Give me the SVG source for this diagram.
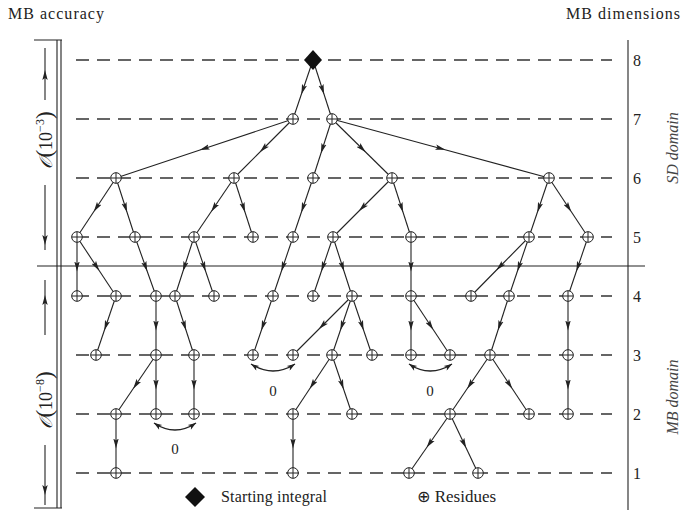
<svg xmlns="http://www.w3.org/2000/svg" width="683" height="514" viewBox="0 0 683 514">
<style>
.lvl{stroke:#333;stroke-width:1.3;stroke-dasharray:13 8;fill:none}
.ax{stroke:#222;stroke-width:1.1;fill:none}
.e{stroke:#222;stroke-width:1.1;fill:none;marker-mid:url(#ah)}
.z{stroke:#222;stroke-width:1.4;fill:none;marker-start:url(#ae);marker-end:url(#ae)}
.t{fill:#222}
.it{font-style:italic;fill:#444}
</style>
<defs>
<marker id="ah" viewBox="-5 -3 10 6" markerWidth="10" markerHeight="6" markerUnits="userSpaceOnUse" refX="0" refY="0" orient="auto"><path d="M-5,-2.7 L5,0 L-5,2.7 L-3,0 Z" fill="#222"/></marker>
<marker id="ae" viewBox="-9 -3 10 6" markerWidth="10" markerHeight="6" markerUnits="userSpaceOnUse" refX="0" refY="0" orient="auto-start-reverse"><path d="M-8,-2.8 L0,0 L-8,2.8 L-6,0 Z" fill="#222"/></marker>
<g id="res" fill="#fff" stroke="#222" stroke-width="1"><circle r="5.3"/><path d="M-5.3,0 H5.3 M0,-5.3 V5.3" fill="none"/></g>
</defs>

<g id="labels">
<text class="t" x="8" y="19" font-size="16" textLength="96" font-family="Liberation Serif, serif">MB accuracy</text>
<text class="t" x="566" y="19" font-size="16" textLength="114" font-family="Liberation Serif, serif">MB dimensions</text>
<text class="t" x="633" y="66" font-size="16" font-family="Liberation Serif, serif">8</text>
<text class="t" x="633" y="125" font-size="16" font-family="Liberation Serif, serif">7</text>
<text class="t" x="633" y="184" font-size="16" font-family="Liberation Serif, serif">6</text>
<text class="t" x="633" y="243" font-size="16" font-family="Liberation Serif, serif">5</text>
<text class="t" x="633" y="302" font-size="16" font-family="Liberation Serif, serif">4</text>
<text class="t" x="633" y="361" font-size="16" font-family="Liberation Serif, serif">3</text>
<text class="t" x="633" y="420" font-size="16" font-family="Liberation Serif, serif">2</text>
<text class="t" x="633" y="479" font-size="16" font-family="Liberation Serif, serif">1</text>
<text class="it" transform="translate(678,148) rotate(-90)" text-anchor="middle" font-size="16" font-family="Liberation Serif, serif">SD domain</text>
<text class="it" transform="translate(678,397) rotate(-90)" text-anchor="middle" font-size="16" font-family="Liberation Serif, serif">MB domain</text>
<text class="t" transform="translate(52,140) rotate(-90)" text-anchor="middle" font-size="18" font-family="Liberation Serif, serif"><tspan font-style="italic">𝒪</tspan><tspan font-size="23">(</tspan>10<tspan font-size="12" dy="-8">−3</tspan><tspan font-size="23" dy="8">)</tspan></text>
<text class="t" transform="translate(52,400) rotate(-90)" text-anchor="middle" font-size="18" font-family="Liberation Serif, serif"><tspan font-style="italic">𝒪</tspan><tspan font-size="23">(</tspan>10<tspan font-size="12" dy="-8">−8</tspan><tspan font-size="23" dy="8">)</tspan></text>
<text class="t" x="175" y="454" font-size="15" text-anchor="middle" font-family="Liberation Serif, serif">0</text>
<text class="t" x="273" y="396" font-size="15" text-anchor="middle" font-family="Liberation Serif, serif">0</text>
<text class="t" x="430" y="396" font-size="15" text-anchor="middle" font-family="Liberation Serif, serif">0</text>
</g>

<g id="frame">
<path class="lvl" d="M76,60 H612 M76,119 H612 M76,178 H612 M76,237 H612 M76,296 H612 M76,355 H612 M76,414 H612 M76,473 H612"/>
<path class="ax" d="M37,266 H645"/>
<path class="ax" stroke-width="1.6" d="M628,40 V510"/>
<path class="ax" d="M57,40 V508 M61,40 V508 M34,40 H62 M34,508 H62"/>
<path class="ax" d="M45,100 L45,75 L45,48" marker-mid="url(#ah)"/>
<path class="ax" d="M45,185 L45,240 L45,250" marker-mid="url(#ah)"/>
<path class="ax" d="M45,335 L45,300 L45,280" marker-mid="url(#ah)"/>
<path class="ax" d="M45,445 L45,490 L45,505" marker-mid="url(#ah)"/>
</g>

<g id="connectors">
<path class="e" d="M313,60 L303,89.5 L293,119"/>
<path class="e" d="M313,60 L322.5,89.5 L332,119"/>
<path class="e" d="M293,119 L204.5,148.5 L116,178"/>
<path class="e" d="M293,119 L263.5,148.5 L234,178"/>
<path class="e" d="M332,119 L322.5,148.5 L313,178"/>
<path class="e" d="M332,119 L362,148.5 L392,178"/>
<path class="e" d="M332,119 L440.5,148.5 L549,178"/>
<path class="e" d="M116,178 L96.5,207.5 L77,237"/>
<path class="e" d="M116,178 L125.5,207.5 L135,237"/>
<path class="e" d="M234,178 L214,207.5 L194,237"/>
<path class="e" d="M234,178 L243.5,207.5 L253,237"/>
<path class="e" d="M313,178 L303,207.5 L293,237"/>
<path class="e" d="M392,178 L362.5,207.5 L333,237"/>
<path class="e" d="M392,178 L401.5,207.5 L411,237"/>
<path class="e" d="M549,178 L539,207.5 L529,237"/>
<path class="e" d="M549,178 L568.5,207.5 L588,237"/>
<path class="e" d="M77,237 L77,266.5 L77,296"/>
<path class="e" d="M77,237 L96.5,266.5 L116,296"/>
<path class="e" d="M135,237 L145.5,266.5 L156,296"/>
<path class="e" d="M194,237 L184.5,266.5 L175,296"/>
<path class="e" d="M194,237 L204,266.5 L214,296"/>
<path class="e" d="M293,237 L283,266.5 L273,296"/>
<path class="e" d="M333,237 L323,266.5 L313,296"/>
<path class="e" d="M333,237 L342.5,266.5 L352,296"/>
<path class="e" d="M411,237 L411,266.5 L411,296"/>
<path class="e" d="M529,237 L500,266.5 L471,296"/>
<path class="e" d="M529,237 L519,266.5 L509,296"/>
<path class="e" d="M588,237 L578,266.5 L568,296"/>
<path class="e" d="M116,296 L106,325.5 L96,355"/>
<path class="e" d="M156,296 L156,325.5 L156,355"/>
<path class="e" d="M175,296 L184.5,325.5 L194,355"/>
<path class="e" d="M273,296 L263,325.5 L253,355"/>
<path class="e" d="M352,296 L322.5,325.5 L293,355"/>
<path class="e" d="M352,296 L342,325.5 L332,355"/>
<path class="e" d="M352,296 L362,325.5 L372,355"/>
<path class="e" d="M411,296 L411,325.5 L411,355"/>
<path class="e" d="M411,296 L430.5,325.5 L450,355"/>
<path class="e" d="M509,296 L499.5,325.5 L490,355"/>
<path class="e" d="M568,296 L568,325.5 L568,355"/>
<path class="e" d="M156,355 L136,384.5 L116,414"/>
<path class="e" d="M156,355 L156,384.5 L156,414"/>
<path class="e" d="M194,355 L194,384.5 L194,414"/>
<path class="e" d="M332,355 L312.5,384.5 L293,414"/>
<path class="e" d="M332,355 L342,384.5 L352,414"/>
<path class="e" d="M490,355 L470,384.5 L450,414"/>
<path class="e" d="M490,355 L509.5,384.5 L529,414"/>
<path class="e" d="M568,355 L568,384.5 L568,414"/>
<path class="e" d="M116,414 L116,443.5 L116,473"/>
<path class="e" d="M293,414 L293,443.5 L293,473"/>
<path class="e" d="M450,414 L429.5,443.5 L409,473"/>
<path class="e" d="M450,414 L464,443.5 L478,473"/>
<path class="z" d="M154,423 Q175,437 196,423"/>
<path class="z" d="M251,364 Q273,378 295,364"/>
<path class="z" d="M409,364 Q430,378 452,364"/>
</g>

<g id="start"><path d="M313,50 L322,60 L313,70 L304,60 Z" fill="#111"/></g>
<g id="nodes">
<use id="n7_293" href="#res" x="293" y="119"/>
<use id="n7_332" href="#res" x="332" y="119"/>
<use id="n6_116" href="#res" x="116" y="178"/>
<use id="n6_234" href="#res" x="234" y="178"/>
<use id="n6_313" href="#res" x="313" y="178"/>
<use id="n6_392" href="#res" x="392" y="178"/>
<use id="n6_549" href="#res" x="549" y="178"/>
<use id="n5_77" href="#res" x="77" y="237"/>
<use id="n5_135" href="#res" x="135" y="237"/>
<use id="n5_194" href="#res" x="194" y="237"/>
<use id="n5_253" href="#res" x="253" y="237"/>
<use id="n5_293" href="#res" x="293" y="237"/>
<use id="n5_333" href="#res" x="333" y="237"/>
<use id="n5_411" href="#res" x="411" y="237"/>
<use id="n5_529" href="#res" x="529" y="237"/>
<use id="n5_588" href="#res" x="588" y="237"/>
<use id="n4_77" href="#res" x="77" y="296"/>
<use id="n4_116" href="#res" x="116" y="296"/>
<use id="n4_156" href="#res" x="156" y="296"/>
<use id="n4_175" href="#res" x="175" y="296"/>
<use id="n4_214" href="#res" x="214" y="296"/>
<use id="n4_273" href="#res" x="273" y="296"/>
<use id="n4_313" href="#res" x="313" y="296"/>
<use id="n4_352" href="#res" x="352" y="296"/>
<use id="n4_411" href="#res" x="411" y="296"/>
<use id="n4_471" href="#res" x="471" y="296"/>
<use id="n4_509" href="#res" x="509" y="296"/>
<use id="n4_568" href="#res" x="568" y="296"/>
<use id="n3_96" href="#res" x="96" y="355"/>
<use id="n3_156" href="#res" x="156" y="355"/>
<use id="n3_194" href="#res" x="194" y="355"/>
<use id="n3_253" href="#res" x="253" y="355"/>
<use id="n3_293" href="#res" x="293" y="355"/>
<use id="n3_332" href="#res" x="332" y="355"/>
<use id="n3_372" href="#res" x="372" y="355"/>
<use id="n3_411" href="#res" x="411" y="355"/>
<use id="n3_450" href="#res" x="450" y="355"/>
<use id="n3_490" href="#res" x="490" y="355"/>
<use id="n3_568" href="#res" x="568" y="355"/>
<use id="n2_116" href="#res" x="116" y="414"/>
<use id="n2_156" href="#res" x="156" y="414"/>
<use id="n2_194" href="#res" x="194" y="414"/>
<use id="n2_293" href="#res" x="293" y="414"/>
<use id="n2_352" href="#res" x="352" y="414"/>
<use id="n2_450" href="#res" x="450" y="414"/>
<use id="n2_529" href="#res" x="529" y="414"/>
<use id="n2_568" href="#res" x="568" y="414"/>
<use id="n1_116" href="#res" x="116" y="473"/>
<use id="n1_293" href="#res" x="293" y="473"/>
<use id="n1_409" href="#res" x="409" y="473"/>
<use id="n1_478" href="#res" x="478" y="473"/>
</g>

<g id="legend">
<path d="M195,487 L205,497 L195,507 L185,497 Z" fill="#111"/>
<text class="t" x="221" y="502" font-size="16" textLength="106" font-family="Liberation Serif, serif">Starting integral</text>
<text class="t" x="417" y="502" font-size="17" font-family="Liberation Serif, serif"><tspan font-family="DejaVu Sans" font-size="16">⊕</tspan> Residues</text>
</g>
</svg>
